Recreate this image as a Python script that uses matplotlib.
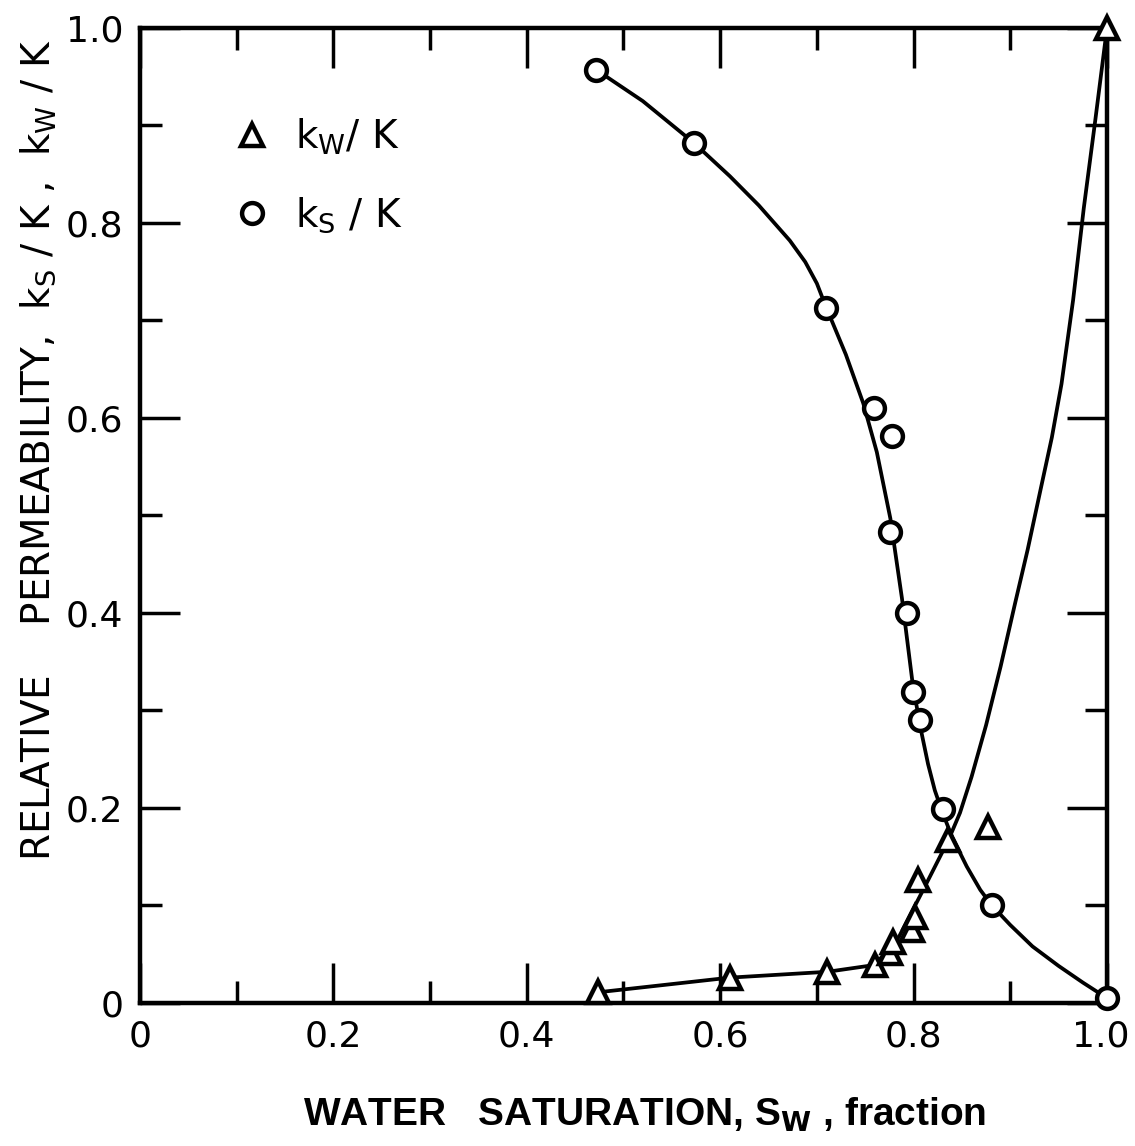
import matplotlib
matplotlib.use("Agg")
import matplotlib.pyplot as plt
import matplotlib.transforms as mtransforms
from matplotlib.ticker import MultipleLocator, FixedLocator

plt.rcParams['font.family'] = ['DejaVu Sans']
plt.rcParams['mathtext.fontset'] = 'dejavusans'

# measured points, k_s / K (circles)
ks_sw = [0.472, 0.573, 0.709, 0.759, 0.778, 0.776, 0.793, 0.799, 0.807, 0.830, 0.881, 1.0]
ks_k = [0.957, 0.882, 0.713, 0.610, 0.582, 0.483, 0.400, 0.319, 0.290, 0.199, 0.101, 0.005]

# measured points, k_w / K (triangles)
kw_sw = [0.474, 0.610, 0.711, 0.760, 0.776, 0.779, 0.798, 0.801, 0.805, 0.836, 0.877, 1.0]
kw_k = [0.011, 0.026, 0.032, 0.039, 0.051, 0.063, 0.075, 0.088, 0.126, 0.167, 0.180, 1.0]

# hand-drawn curves
ks_curve_sw = [0.472, 0.52, 0.573, 0.61, 0.64, 0.672, 0.688, 0.700, 0.709, 0.73,
               0.748, 0.762, 0.776, 0.788, 0.799, 0.807, 0.815, 0.822, 0.830,
               0.840, 0.855, 0.869, 0.881, 0.90, 0.923, 0.95, 0.975, 1.0]
ks_curve_k = [0.957, 0.925, 0.882, 0.848, 0.818, 0.782, 0.760, 0.738, 0.715, 0.665,
              0.615, 0.565, 0.497, 0.415, 0.328, 0.283, 0.245, 0.218, 0.195,
              0.170, 0.140, 0.116, 0.100, 0.080, 0.058, 0.038, 0.021, 0.005]

kw_curve_sw = [0.474, 0.610, 0.711, 0.760, 0.785, 0.812, 0.836, 0.848, 0.86, 0.875,
               0.89, 0.905, 0.918, 0.931, 0.943, 0.953, 0.965, 0.976, 0.988, 1.0]
kw_curve_k = [0.011, 0.026, 0.032, 0.039, 0.068, 0.120, 0.167, 0.195, 0.232, 0.285,
              0.345, 0.410, 0.465, 0.525, 0.580, 0.635, 0.721, 0.815, 0.906, 1.0]

tick_vals = [0, 0.2, 0.4, 0.6, 0.8, 1.0]
tick_text = ['0', '0.2', '0.4', '0.6', '0.8', '1.0']

fig = plt.figure(figsize=(11.35, 11.46), dpi=100)
ax = fig.add_axes([0.1233, 0.1248, 0.852, 0.8508])

ax.plot(ks_curve_sw, ks_curve_k, color='black', lw=2.7, clip_on=False,
        solid_joinstyle='round')
ax.plot(kw_curve_sw, kw_curve_k, color='black', lw=2.7, clip_on=False,
        solid_joinstyle='round')

ax.plot(kw_sw, kw_k, linestyle='none', marker='^', ms=16, mfc='white', mec='black',
        mew=3.2, clip_on=False, zorder=5, label=r'k$_{\mathsf{W}}$/ K')
ax.plot(ks_sw, ks_k, linestyle='none', marker='o', ms=15, mfc='white', mec='black',
        mew=3.2, clip_on=False, zorder=5, label=r'k$_{\mathsf{S}}$ / K')

ax.set_xlim(0, 1.0)
ax.set_ylim(0, 1.0)

for axis in (ax.xaxis, ax.yaxis):
    axis.set_major_locator(FixedLocator(tick_vals))
    axis.set_minor_locator(MultipleLocator(0.1))
ax.set_xticklabels(tick_text)
ax.set_yticklabels(tick_text)

ax.tick_params(which='both', direction='in', top=True, right=True, width=2.5,
               labelsize=26)
ax.tick_params(which='major', length=29, pad=12)
ax.tick_params(which='minor', length=16)

# keep the last x label inside the figure edge
last = ax.get_xticklabels()[-1]
last.set_transform(last.get_transform() +
                   mtransforms.ScaledTranslation(-6 / 100, 0, fig.dpi_scale_trans))

for s in ax.spines.values():
    s.set_linewidth(3.2)

ax.set_ylabel(r'RELATIVE    PERMEABILITY,  k$_{\mathsf{S}}$ / K ,  k$_{\mathsf{W}}$ / K',
              fontsize=28)
ax.yaxis.set_label_coords(-0.085, 0.567)

fig.text(0.568, 0.027, r'WATER   SATURATION, S$_{\mathbf{W}}$ , fraction',
         ha='center', va='center', fontsize=28, fontweight='bold',
         family='Liberation Sans')

ax.legend(loc='upper left', bbox_to_anchor=(0.06, 0.945), frameon=False,
          fontsize=28, handlelength=1.0, handletextpad=0.6, labelspacing=1.0,
          numpoints=1)

fig.savefig('out.png', dpi=100)
